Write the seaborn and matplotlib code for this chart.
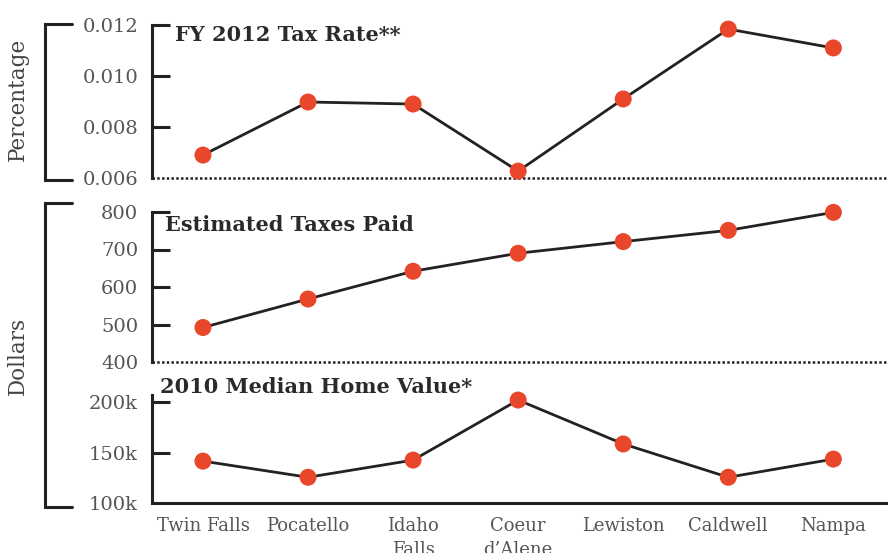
import numpy as np
import pandas as pd
import matplotlib
matplotlib.use('Agg')
import matplotlib.pyplot as plt
from matplotlib.lines import Line2D
import seaborn as sns

cities = ['Twin Falls', 'Pocatello', 'Idaho\nFalls', 'Coeur\nd\u2019Alene', 'Lewiston', 'Caldwell', 'Nampa']
tax_rate = [0.0069, 0.00898, 0.0089, 0.00627, 0.0091, 0.01184, 0.0111]
taxes_paid = [492, 568, 642, 690, 721, 751, 799]
home_value = [141.5, 125.5, 142.5, 202, 158.5, 125.5, 143.5]  # thousands

df = pd.DataFrame({'city': cities, 'rate': tax_rate, 'paid': taxes_paid, 'home': home_value})

sns.set_style('white')
plt.rcParams['font.family'] = ['DejaVu Serif']

W, H = 888, 553
fig = plt.figure(figsize=(W / 100, H / 100), dpi=100)


def px_axes(top, bottom, left=152, right=888):
    return fig.add_axes([left / W, 1 - bottom / H, (right - left) / W, (bottom - top) / H])


ax1 = px_axes(25, 178)
ax2 = px_axes(212, 362)
ax3 = px_axes(395, 503)

dot_red = '#e8472b'
line_col = '#222222'
tick_col = '#555555'

for ax, col in [(ax1, 'rate'), (ax2, 'paid'), (ax3, 'home')]:
    sns.lineplot(data=df, x='city', y=col, sort=False, color=line_col, linewidth=2, ax=ax)
    sns.scatterplot(data=df, x='city', y=col, color=dot_red, s=150, edgecolor='none', zorder=5, ax=ax)
    for art in ax.collections + ax.lines:
        art.set_clip_on(False)
    ax.set_xlim(-0.485, 6.52)
    ax.set_xlabel('')
    ax.set_ylabel('')
    for side in ['top', 'right']:
        ax.spines[side].set_visible(False)
    ax.spines['left'].set_linewidth(2.2)
    ax.spines['left'].set_color(line_col)
    ax.tick_params(axis='y', left=True, direction='in', length=13, width=2.2, color=line_col,
                   pad=10, labelsize=14, labelcolor=tick_col)
    ax.patch.set_alpha(0)

ax1.set_ylim(0.006, 0.012)
ax1.set_yticks([0.006, 0.008, 0.010, 0.012])
ax1.set_yticklabels(['0.006', '0.008', '0.010', '0.012'])
ax2.set_ylim(400, 800)
ax2.set_yticks([400, 500, 600, 700, 800])
ax3.set_ylim(100, 207)
ax3.set_yticks([100, 150, 200])
ax3.set_yticklabels(['100k', '150k', '200k'])

for ax in (ax1, ax2, ax3):
    ax.yaxis.get_major_ticks()[0].tick1line.set_visible(False)

for ax in (ax1, ax2):
    ax.spines['bottom'].set_visible(False)
    ax.axhline(ax.get_ylim()[0], color=line_col, linewidth=1.8,
               linestyle=(0, (1, 0.9)), clip_on=False, zorder=1)
    ax.tick_params(axis='x', bottom=False, labelbottom=False)

ax3.spines['bottom'].set_linewidth(2.2)
ax3.spines['bottom'].set_color(line_col)
ax3.tick_params(axis='x', length=0, pad=10, labelsize=13, labelcolor=tick_col)
for lbl in ax3.get_xticklabels():
    lbl.set_linespacing(1.45)
    lbl.set_verticalalignment('top')

# titles
title_kw = dict(fontsize=15, fontweight='bold', color='#2a2a2a', va='center', ha='left')
fig.text(175 / W, 1 - 35 / H, 'FY 2012 Tax Rate**', **title_kw)
fig.text(165 / W, 1 - 225 / H, 'Estimated Taxes Paid', **title_kw)
fig.text(160 / W, 1 - 387 / H, '2010 Median Home Value*', **title_kw)

# side brackets and labels
def bracket(top, bottom, x0=45, x1=72):
    xs = [x1 / W, x0 / W, x0 / W, x1 / W]
    ys = [1 - top / H, 1 - top / H, 1 - bottom / H, 1 - bottom / H]
    fig.add_artist(Line2D(xs, ys, transform=fig.transFigure, color=line_col, linewidth=2.2,
                          solid_joinstyle='miter'))

bracket(24, 180)
bracket(203, 507)
fig.text(18 / W, 1 - 99 / H, 'Percentage', rotation=90, ha='center', va='center',
         fontsize=15.5, color='#444444')
fig.text(18 / W, 1 - 356 / H, 'Dollars', rotation=90, ha='center', va='center',
         fontsize=15.5, color='#444444')

fig.savefig('out.png', dpi=100, facecolor='white')
